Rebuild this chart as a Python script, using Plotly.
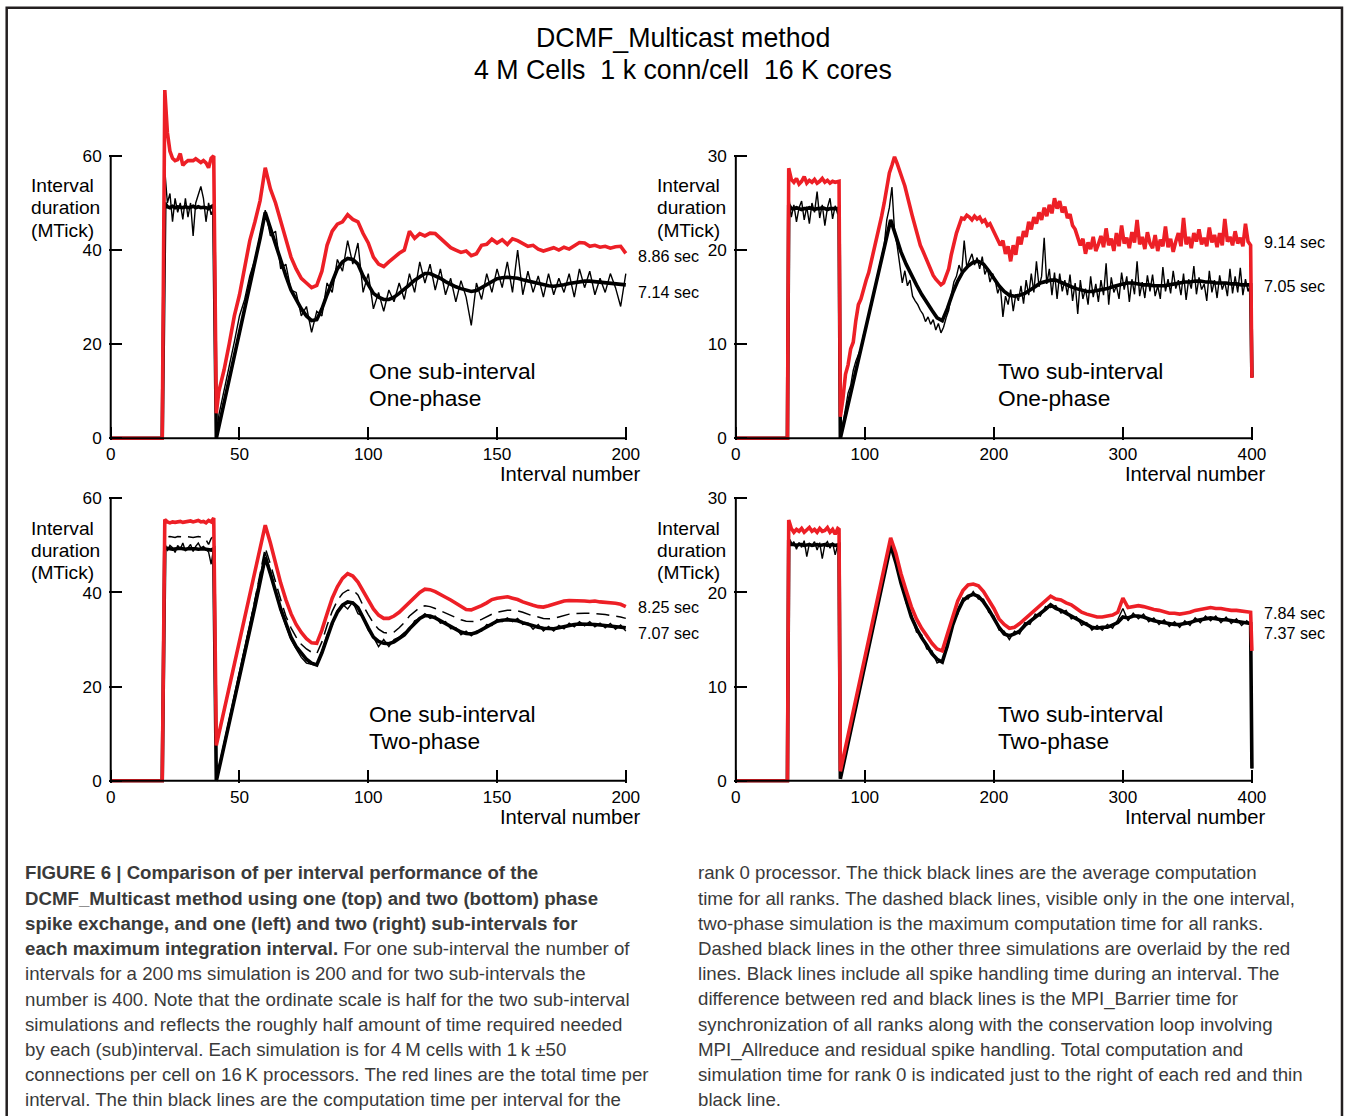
import plotly.graph_objects as go

W, H = 1355, 1116

# The photographed page comes out slightly scaled; all geometry below is written in
# reference-image pixels and converted to page pixels with this measured transform.
SX, OX = 0.9895, 5.3
SY, OY = 0.9915, 0.3
FS = 1 / 0.9905

# ---------------- data ----------------
X_LEFT = [0, 20] + list(range(21, 42)) + list(range(42, 201, 2))
X_RIGHT = [0, 40] + list(range(41, 80, 2)) + [80, 81] + list(range(84, 397, 4)) + [399, 400]
X_RIGHT_FINE = [0, 40] + list(range(41, 80, 2)) + [80, 81] + list(range(83, 399, 2)) + [399, 400]

# Panel A: one sub-interval, one-phase (MTick)
A_total = [0, 0,
           74, 65, 61, 59.5, 59, 59.2, 60.5, 58, 58.6, 59, 59, 59, 59.4, 59, 58.6, 59, 58.5, 57.5, 59.5, 60, 5.3,
           10, 14.5, 20, 26, 30.5, 36, 42, 46, 50.5, 57.5,
           53, 50, 46, 42.5, 38.5, 36, 34, 33, 32, 32.5,
           35.5, 41, 44, 45.5, 46, 47.5, 46.5, 46, 43.5, 41.5,
           38.5, 37, 36.5, 37.5, 38.5, 39.3, 40, 44, 42.5, 43.5,
           43, 43.6, 43.5, 42.5, 41.5, 40.5, 40, 39.5, 39.8, 38.8,
           39.2, 41, 41.2, 42.3, 41.5, 42.2, 41.2, 42.4, 42, 41.3,
           40.8, 41, 40.2, 39.8, 40.2, 40.5, 40, 40.6, 40.2, 41,
           41.6, 41.5, 40.8, 41, 40.6, 40.8, 40.4, 40.7, 40.8, 39.3]
A_rank0 = [0, 0,
           57, 50, 52, 46, 51, 48, 50, 46.5, 51, 47, 50, 43, 50, 52, 53.5, 51, 46, 50, 47.5, 49, 0,
           5, 10, 15, 20.5, 26, 29.5, 34.5, 38, 43, 48.5,
           43, 44, 36, 37, 31.5, 31, 26, 28, 22.5, 27,
           26, 33, 31, 38, 35.5, 42, 37, 41.5, 31, 35,
           27.5, 31, 27, 31.5, 29, 33, 29.5, 35, 31, 37.5,
           33, 37, 31.5, 36, 30.5, 34, 29, 33.5, 30, 24,
           33, 29.5, 35, 31, 36, 32, 37.5, 31, 40, 30.5,
           35.5, 31, 34.5, 30, 35, 30.5, 34, 31, 35, 30,
           36, 32, 35.5, 30.5, 34, 31, 35, 32, 28, 35]
A_avg = [0, 0,
         50, 49.2, 49, 49.3, 49, 49.2, 49.1, 49, 49.2, 49, 49.1, 49.3, 49, 49.2, 49, 49.1, 49, 48.8, 49.2, 49.5, 0,
         2.5, 7.5, 12.5, 17.5, 22.5, 27, 32, 37, 42.5, 48,
         44.5, 41, 37.5, 34.5, 31.5, 29.5, 27.5, 26, 25, 25.2,
         27.5, 30.5, 33.5, 36, 37.5, 38.2, 38, 37, 34.5, 32.5,
         30.8, 30, 29.5, 29.5, 30, 30.8, 31.6, 32.6, 33.6, 34.4,
         35, 35, 34.6, 34, 33.3, 32.7, 32.2, 31.8, 31.4, 31.2,
         31.4, 32, 32.7, 33.4, 33.9, 34.1, 34.2, 34.1, 34, 33.7,
         33.4, 33.1, 32.9, 32.6, 32.4, 32.3, 32.4, 32.6, 32.9, 33.1,
         33.3, 33.4, 33.4, 33.3, 33.1, 33, 32.9, 32.8, 32.7, 32.6]

# Panel B: two sub-interval, one-phase (red and thin black on the fine grid)
B_total = [0, 0,
           28.7, 27.5, 27.2, 27.6, 27, 27.3, 27.8, 27.1, 27.4, 27.2, 27.5, 27.1, 27.3, 27.6, 27.2, 27.4, 27.1, 27.3, 27.2, 27.3,
           27.3, 2.3,
           4.2, 6.8, 7.8, 9.5, 10.2, 12.5, 14.2, 14.8, 16, 16.8,
           17.6, 18.8, 20, 20.8, 22.4, 23.6, 25, 26.8, 28.2, 29,
           29.9, 29.2, 28.5, 27.6, 26.8, 25.5, 24.6, 23.5, 22.4, 21.6,
           20.5, 19.9, 19.2, 18.5, 17.8, 17.3, 16.9, 16.6, 16.3, 16.5,
           17.2, 18, 19.5, 20.8, 21.8, 22.6, 23.4, 23.3, 23.7, 23.5,
           23.2, 23.6, 23.3, 23.5, 23, 23.2, 22.6, 22.8, 22.2, 21.8,
           21.2, 20.5, 21, 19.6, 20.4, 18.8, 20.5, 19.5, 21.4, 20.6,
           22, 21.4, 23, 22.2, 23.5, 22.8, 24, 23.2, 24.5, 23.6,
           24.8, 23.9, 25.5, 24.4, 25.2, 24, 24.6, 23.4, 23.8, 22.6,
           22.2, 21.3, 20.5, 21.2, 19.6, 20.8, 20.1, 21.4, 19.9, 20.6,
           21.5, 20.3, 22.3, 20.5, 21.2, 19.9, 21.8, 20.4, 22.6, 20.7,
           21.3, 20.2, 21.9, 20.8, 23.2, 20.6, 21.4, 20.1, 21.9, 20.7,
           20.2, 21.6, 19.9, 21.1, 20.4, 22.5, 20.3, 21.2, 19.8, 20.9,
           21.8, 20.4, 23.4, 20.6, 21.4, 20.2, 21.8, 20.9, 22.2, 20.6,
           21.3, 20.4, 22.4, 20.8, 21.6, 20.3, 21.8, 20.5, 23.3, 20.9,
           21.4, 20.5, 22, 20.7, 21.3, 20.4, 22.8, 20.9,
           20.5, 6.4]
B_rank0 = [0, 0,
           25.7, 23.5, 24.8, 23, 24.5, 25.2, 23.2, 24.6, 22.8, 25, 24, 26.2, 23.4, 24.8, 22.6, 24.5, 25.5, 23.3, 24.7, 23.8,
           24.5, 0,
           1.5, 3, 4.8, 5.6, 7.2, 8.2, 9, 9.6, 11, 11.8,
           13, 14, 15.6, 16.8, 17.8, 19.2, 20.5, 23.2, 24.5, 26.7,
           22, 20.5, 18.2, 16.5, 17.8, 16.2, 16.8, 15.1, 14.6, 14.2,
           13.6, 13.2, 12.4, 12.9, 12.1, 12.6, 11.5, 12.2, 11.2, 11.8,
           12.8, 13.6, 15.2, 16.6, 17.2, 18.4, 17.6, 21, 18.2, 18.9,
           19.6, 18.4, 19.2, 18, 19.3, 17.4, 18.1, 16.6, 17.5, 16.8,
           15.4, 16.2, 12.9, 15.1, 14.2, 15.8, 13.5, 15.3, 14.6, 16.2,
           14.3, 16.8, 15.2, 17.5, 15.5, 18.8, 16.1, 17.2, 21.3, 16.4,
           18, 15.2, 17.6, 14.8, 17.5, 15.6, 16.8, 15.2, 17.4, 14.6,
           16.5, 13.2, 16.8, 14.8, 15.9, 14.2, 17.2, 15, 16.4, 14.5,
           16.8, 15.2, 18.6, 14.2, 17.1, 15.5, 16.2, 14.8, 17.6, 15.8,
           17.2, 14.5, 16.9, 15.3, 18.8, 15.1, 16.6, 14.9, 17.3, 15.6,
           17.4, 15.1, 16.2, 14.8, 18.2, 15.6, 16.9, 15.4, 17.8, 15.9,
           16.8, 15.2, 17.5, 14.7, 16.9, 15.9, 18.3, 15.3, 17.1, 15.8,
           16.4, 14.6, 17.8, 15.5, 16.8, 14.9, 17.3, 15.8, 16.6, 15.1,
           18, 15.4, 17.2, 15.5, 18.1, 15.2, 16.9, 15.6,
           16.4, 6.5]
B_avg = [0, 0,
         24.8, 24.4, 24.4, 24.5, 24.4, 24.3, 24.4, 24.4, 24.5, 24.4, 24.3, 24.4, 24.4, 24.5, 24.4, 24.3, 24.4, 24.4, 24.4, 24.4,
         24.4, 0,
         1.8, 4.2, 6.5, 8.9, 11.3, 13.7, 16.1, 18.5, 20.9, 23.2,
         21.5, 19.8, 18.5, 17.3, 16.3, 15.3, 14.4, 13.6, 12.8, 12.5,
         13.8, 15.4, 16.7, 17.7, 18.3, 18.7, 18.8, 18.5, 17.8, 17,
         16.2, 15.6, 15.2, 15.1, 15.2, 15.4, 15.7, 16.1, 16.5, 16.7,
         16.8, 16.8, 16.6, 16.3, 16.1, 15.9, 15.7, 15.6, 15.6, 15.7,
         15.8, 15.9, 16.1, 16.3, 16.4, 16.5, 16.5, 16.4, 16.3, 16.3,
         16.2, 16.2, 16.2, 16.3, 16.4, 16.5, 16.6, 16.6, 16.7, 16.7,
         16.6, 16.6, 16.5, 16.5, 16.5, 16.4, 16.4, 16.3, 16.3,
         16.3, 6.5]

# Panel C: one sub-interval, two-phase
C_total = [0, 0,
           55.5, 55, 54.8, 55, 54.9, 55, 55.1, 54.9, 55, 55, 55.2, 55, 55.1, 55.3, 55, 55.1, 54.8, 55.3, 55, 55.8, 7.5,
           10, 14.5, 19.5, 24.5, 29.5, 34.5, 39.5, 44.5, 49.5, 54.3,
           50.5, 46, 42, 38.5, 35.5, 33.2, 31.5, 30.2, 29.3, 29.2,
           32, 35.5, 38.8, 41.2, 43, 44, 43.5, 42.2, 40.2, 38.2,
           36.5, 35.2, 34.5, 34.5, 35, 35.8, 36.8, 37.8, 39, 40,
           40.7, 40.6, 40.2, 39.7, 39, 38.4, 37.7, 37.1, 36.4, 36.3,
           36.7, 37.2, 37.8, 38.5, 38.8, 38.9, 39.1, 38.8, 38.5, 38,
           37.6, 37.3, 37, 36.9, 37.2, 37.5, 37.8, 38.2, 38.3, 38.3,
           38.2, 38.2, 38.1, 38.2, 38, 37.9, 37.9, 37.7, 37.5, 37]
C_max = [0, 0,
         52, 51.8, 51.9, 51.8, 51.7, 51.9, 51.8, 51.8, 51.9, 51.8, 51.8, 51.7, 51.8, 51.9, 51.8, 51.6, 51.2, 50.2, 51.5, 52, 0,
         2.5, 7.5, 12.5, 18, 23, 28, 33, 38.5, 44, 49.5,
         46, 42, 38.5, 35, 32.5, 30.5, 29, 28, 27.3, 27,
         29.5, 33, 36, 38.3, 39.8, 40.5, 40.5, 39.5, 37.2, 35.3,
         33.5, 32.2, 31.5, 31.3, 31.6, 32.5, 33.6, 35, 36, 36.8,
         37.2, 37, 36.6, 36.1, 35.6, 35.1, 34.6, 34.2, 33.9, 33.8,
         33.8, 34.3, 34.9, 35.4, 35.8, 36, 36.2, 36.2, 36.1, 35.8,
         35.4, 35, 34.8, 34.5, 34.4, 34.5, 34.8, 35.1, 35.4, 35.5,
         35.6, 35.6, 35.6, 35.5, 35.5, 35.3, 35.1, 35, 34.8, 34.5]
C_avg = [0, 0,
         49.5, 49.3, 49.3, 49.2, 49.3, 49.3, 49.4, 49.3, 49.2, 49.3, 49.3, 49.4, 49.3, 49.2, 49.3, 49.3, 49.2, 49.1, 49, 49.3, 0,
         2.4, 7.2, 12, 17, 22, 27, 32, 37, 42, 47.5,
         44, 40, 36.5, 33.5, 30.5, 28.5, 27, 25.8, 25, 24.6,
         27.2, 30.5, 33.5, 35.8, 37.3, 38, 37.8, 36.8, 34.5, 32.5,
         30.5, 29.6, 29.2, 29.1, 29.5, 30.2, 31, 32.3, 33.5, 34.5,
         35.1, 35, 34.6, 34, 33.4, 32.8, 32.1, 31.6, 31.3, 31.2,
         31.5, 32.1, 32.8, 33.4, 33.9, 34.1, 34.2, 34.1, 34, 33.6,
         33.2, 32.9, 32.6, 32.4, 32.3, 32.3, 32.5, 32.8, 33, 33.2,
         33.3, 33.3, 33.3, 33.2, 33.1, 33, 32.9, 32.8, 32.6, 32.5]
C_rank0 = [0, 0,
           50.5, 48.8, 50, 49.5, 48.5, 50, 49.2, 50.5, 48.8, 49.5, 50.2, 48.7, 49.8, 50.5, 49.5, 49.8, 49.2, 48.6, 46, 49.6, 0,
           3, 8, 13, 18, 23, 28, 33, 38, 43.5, 48.5,
           44.5, 40.5, 36, 33, 30, 28, 26.2, 25, 24.8, 24.5,
           27.5, 31, 33, 36.2, 37.5, 36.5, 38, 35.5, 35, 32,
           30.5, 28.5, 30, 28.5, 30, 30.5, 31.5, 32, 34, 34.5,
           35.5, 34.5, 35, 33.5, 33.8, 32.3, 32.5, 31, 31.8, 30.8,
           31.8, 31.8, 33.2, 33, 34.3, 33.8, 34.6, 33.8, 34.5, 33.2,
           33.5, 32.2, 33.2, 31.8, 32.8, 31.8, 33, 32.3, 33.5, 32.7,
           33.8, 32.9, 33.8, 32.7, 33.5, 32.5, 33.4, 32.2, 33.1, 31.8]

# Panel D: two sub-interval, two-phase
D_total = [0, 0,
           27.7, 26.8, 26.4, 26.7, 26.5, 26.8, 26.4, 26.6, 26.9, 26.5, 26.7, 26.4, 26.8, 26.5, 26.6, 26.9, 26.4, 26.7, 26.2, 26.8,
           26.7, 1.0,
           2.9, 5.5, 8, 10.5, 13.1, 15.6, 18.2, 20.7, 23.3, 25.8,
           24.2, 22, 20.2, 18.5, 17.2, 16.2, 15.4, 14.6, 14, 13.8,
           15.6, 17.5, 19.1, 20.2, 20.8, 20.9, 20.7, 20.1, 19.2, 18.3,
           17.2, 16.6, 16.2, 16.3, 16.7, 17.2, 17.7, 18.2, 18.6, 19.1,
           19.6, 19.3, 19.2, 18.9, 18.7, 18.3, 17.9, 17.7, 17.5, 17.4,
           17.4, 17.5, 17.6, 17.9, 19.4, 18.4, 18.5, 18.6, 18.5, 18.3,
           18.2, 18.1, 17.9, 17.8, 17.8, 17.7, 17.8, 17.9, 18.1, 18.2,
           18.3, 18.4, 18.3, 18.3, 18.2, 18.1, 18.1, 18, 17.9,
           17.9, 13.8]
D_avg = [0, 0,
         25.6, 25.1, 25.1, 25.0, 25.1, 25.1, 25.0, 25.1, 25.1, 25.0, 25.1, 25.1, 25.0, 25.1, 25.1, 25.0, 25.1, 25.1, 25.0, 25.1,
         25.1, 0.2,
         2.1, 4.7, 7.2, 9.8, 12.3, 14.9, 17.4, 20, 22.5, 25,
         23.2, 21, 19.2, 17.4, 16.2, 15.2, 14.4, 13.5, 12.9, 12.6,
         14.4, 16.5, 18, 19.1, 19.6, 19.8, 19.6, 19, 18.2, 17.2,
         16.3, 15.6, 15.4, 15.6, 15.9, 16.5, 16.9, 17.4, 17.8, 18.2,
         18.7, 18.3, 18.1, 17.8, 17.5, 17.1, 16.8, 16.5, 16.3, 16.2,
         16.3, 16.3, 16.5, 16.8, 17.4, 17.3, 17.5, 17.5, 17.4, 17.2,
         17, 16.9, 16.8, 16.7, 16.6, 16.6, 16.7, 16.8, 17, 17.1,
         17.2, 17.3, 17.2, 17.1, 17.1, 17, 16.9, 16.8, 16.7,
         16.7, 1.3]
D_rank0 = [0, 0,
           25.8, 25, 25.4, 24.6, 25.3, 24.8, 25.5, 23.8, 25.2, 25, 25.4, 24.5, 25.3, 23.6, 25.1, 25.4, 24.7, 25.3, 24, 25.1,
           25.2, 0.2,
           2.3, 4.5, 7.4, 9.6, 12.5, 14.7, 17.6, 19.8, 22.7, 25.3,
           23, 21.3, 18.9, 17.7, 15.8, 15.5, 14, 13.8, 12.5, 12.8,
           14.1, 16.8, 17.7, 19.4, 19.3, 20.1, 19.3, 19.3, 17.9, 17.5,
           16, 15.9, 15, 15.9, 15.6, 16.8, 16.6, 17.7, 17.5, 18.5,
           18.4, 18.6, 17.8, 18.1, 17.2, 17.4, 16.5, 16.8, 16, 16.5,
           16, 16.6, 16.2, 17.1, 18.3, 17, 17.8, 17.2, 17.7, 16.9,
           17.3, 16.6, 17.1, 16.4, 16.9, 16.3, 17, 16.5, 17.3, 16.8,
           17.5, 17, 17.5, 16.8, 17.4, 16.7, 17.2, 16.5, 17,
           16.6, 1.3]

X_TICKS_LEFT = [0, 50, 100, 150, 200]
X_TICKS_RIGHT = [0, 100, 200, 300, 400]
Y_TICKS_LEFT = [0, 20, 40, 60]
Y_TICKS_RIGHT = [0, 10, 20, 30]

PANEL_NAMES = [["One sub-interval", "One-phase"], ["Two sub-interval", "One-phase"],
               ["One sub-interval", "Two-phase"], ["Two sub-interval", "Two-phase"]]
TIME_LABELS = [["8.86 sec", "7.14 sec"], ["9.14 sec", "7.05 sec"],
               ["8.25 sec", "7.07 sec"], ["7.84 sec", "7.37 sec"]]

# ---------------- styling ----------------
RED = "#ED1F26"
BLACK = "#000000"
FONT = "Liberation Sans, Arial, Helvetica, sans-serif"


def PGX(x):  # reference px -> page px
    return (x - OX) / SX


def PGY(y):
    return (y - OY) / SY


def PX(x):  # reference px -> paper fraction
    return PGX(x) / W


def PY(y):
    return 1 - PGY(y) / H


# reference-pixel geometry: (x of 0, px per unit, y of 0, px per unit, x domain px, y domain px)
GEOM = [
    (113, 2.575, 438, 4.7, (111, 631), (88, 440)),
    (738, 1.29, 438, 9.4, (736, 1257), (88, 440)),
    (113, 2.575, 780, 4.7, (111, 631), (480, 782)),
    (738, 1.29, 780, 9.4, (736, 1257), (480, 782)),
]

series = [
    (X_LEFT, A_rank0, X_LEFT, A_total, None, A_avg, X_LEFT),
    (X_RIGHT_FINE, B_rank0, X_RIGHT_FINE, B_total, None, B_avg, X_RIGHT),
    (X_LEFT, C_rank0, X_LEFT, C_total, C_max, C_avg, X_LEFT),
    (X_RIGHT, D_rank0, X_RIGHT, D_total, None, D_avg, X_RIGHT),
]

fig = go.Figure()
layout = dict(width=W, height=H, autosize=False, margin=dict(l=0, r=0, t=0, b=0, pad=0),
              paper_bgcolor="white", plot_bgcolor="white", showlegend=False,
              font=dict(family=FONT, color="black"))
shapes = []
annotations = []


def note(x, y, text, size, anchor="left", color="black"):
    annotations.append(dict(x=PX(x), y=PY(y), xref="paper", yref="paper", text=text,
                            showarrow=False, xanchor=anchor, yanchor="middle",
                            font=dict(size=size * FS, family=FONT, color=color)))


for i, (xr0, rank0, xt0, total, mx, avg, xa0) in enumerate(series):
    n = i + 1
    xa = "x" if n == 1 else f"x{n}"
    ya = "y" if n == 1 else f"y{n}"
    fig.add_trace(go.Scatter(x=xr0, y=rank0, mode="lines", xaxis=xa, yaxis=ya,
                             line=dict(color=BLACK, width=1.4), hoverinfo="skip"))
    if mx is not None:
        fig.add_trace(go.Scatter(x=xa0, y=mx, mode="lines", xaxis=xa, yaxis=ya,
                                 line=dict(color=BLACK, width=1.5, dash="13px,7px"), hoverinfo="skip"))
    fig.add_trace(go.Scatter(x=xa0, y=avg, mode="lines", xaxis=xa, yaxis=ya,
                             line=dict(color=BLACK, width=3.6), hoverinfo="skip"))
    fig.add_trace(go.Scatter(x=xt0, y=total, mode="lines", xaxis=xa, yaxis=ya,
                             line=dict(color=RED, width=3.6), hoverinfo="skip"))

    x0, sx, y0, sy, xd, yd = GEOM[i]
    xrng = [(xd[0] - x0) / sx, (xd[1] - x0) / sx]
    yrng = [(y0 - yd[1]) / sy, (y0 - yd[0]) / sy]
    left = (i % 2 == 0)
    xt = X_TICKS_LEFT if left else X_TICKS_RIGHT
    yt = Y_TICKS_LEFT if left else Y_TICKS_RIGHT
    key_x = "xaxis" if n == 1 else f"xaxis{n}"
    key_y = "yaxis" if n == 1 else f"yaxis{n}"
    layout[key_x] = dict(domain=[PX(xd[0]), PX(xd[1])], range=xrng, anchor=ya,
                         tickmode="array", tickvals=xt, ticks="inside", ticklen=13 / SY,
                         tickwidth=2, tickcolor="black", showline=False, showgrid=False,
                         zeroline=False, tickfont=dict(size=17 * FS, family=FONT, color="black"),
                         ticklabelstandoff=2, fixedrange=True)
    layout[key_y] = dict(domain=[PY(yd[1]), PY(yd[0])], range=yrng, anchor=xa,
                         tickmode="array", tickvals=yt, ticks="inside", ticklen=13 / SX,
                         tickwidth=2, tickcolor="black", showline=False, showgrid=False,
                         zeroline=False, tickfont=dict(size=17 * FS, family=FONT, color="black"),
                         ticklabelstandoff=6, fixedrange=True)
    shapes.append(dict(type="line", xref=xa, yref=ya, x0=0, x1=0, y0=0, y1=yt[-1],
                       line=dict(color="black", width=2)))
    shapes.append(dict(type="line", xref=xa, yref=ya, x0=0, x1=xt[-1], y0=0, y1=0,
                       line=dict(color="black", width=2)))

    base_y = 438 if i < 2 else 780
    lx = 369 if left else 998
    for k, line in enumerate(PANEL_NAMES[i]):
        note(lx, base_y - 67 + 27 * k, line, 22.5)
    note(645 if left else 1270, base_y + 36, "Interval number", 20, anchor="right")
    ylx = 31 if left else 657
    for k, line in enumerate(["Interval", "duration", "(MTick)"]):
        note(ylx, base_y - 252 + 22 * k, line, 19)
    tl_x = 638 if left else 1264
    tl_y = [[256, 292], [242, 286], [606, 632], [612, 632]][i]
    for k, t in enumerate(TIME_LABELS[i]):
        note(tl_x, tl_y[k], t, 16)

# title
note(685, 38, "DCMF_Multicast method", 26.5, anchor="center")
note(685, 70, "4 M Cells\u00a0 1 k conn/cell\u00a0 16 K cores", 26.5, anchor="center")

# caption
CAP_LEFT = [
    "<b>FIGURE 6 | Comparison of per interval performance of the</b>",
    "<b>DCMF_Multicast method using one (top) and two (bottom) phase</b>",
    "<b>spike exchange, and one (left) and two (right) sub-intervals for</b>",
    "<b>each maximum integration interval.</b> For one sub-interval the number of",
    "intervals for a 200\u2009ms simulation is 200 and for two sub-intervals the",
    "number is 400. Note that the ordinate scale is half for the two sub-interval",
    "simulations and reflects the roughly half amount of time required needed",
    "by each (sub)interval. Each simulation is for 4\u2009M cells with 1\u2009k \u00b150",
    "connections per cell on 16\u2009K processors. The red lines are the total time per",
    "interval. The thin black lines are the computation time per interval for the",
]
CAP_RIGHT = [
    "rank 0 processor. The thick black lines are the average computation",
    "time for all ranks. The dashed black lines, visible only in the one interval,",
    "two-phase simulation is the maximum computation time for all ranks.",
    "Dashed black lines in the other three simulations are overlaid by the red",
    "lines. Black lines include all spike handling time during an interval. The",
    "difference between red and black lines is the MPI_Barrier time for",
    "synchronization of all ranks along with the conservation loop involving",
    "MPI_Allreduce and residual spike handling. Total computation and",
    "simulation time for rank 0 is indicated just to the right of each red and thin",
    "black line.",
]
for cx, lines in [(25, CAP_LEFT), (698, CAP_RIGHT)]:
    for k, t in enumerate(lines):
        note(cx, 872 + 25.2 * k, t, 18.5, color="#3a3a3a")

# outer frame
shapes.append(dict(type="rect", xref="paper", yref="paper", x0=PX(9), x1=min(PX(1352), 0.9985),
                   y0=-0.05, y1=PY(8), line=dict(color="#231F20", width=2.5)))

layout["shapes"] = shapes
layout["annotations"] = annotations
fig.update_layout(**layout)
fig.write_html(
    "out.html",
    config={"displayModeBar": False},
    post_script="document.body.style.margin='0px';document.body.style.padding='0px';"
                "document.documentElement.style.overflow='hidden';document.body.style.overflow='hidden';",
)
